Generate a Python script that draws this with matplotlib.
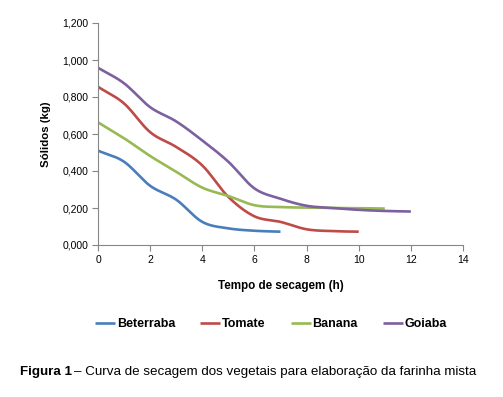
import numpy as np
import matplotlib
matplotlib.use("Agg")
import matplotlib.pyplot as plt
from matplotlib.ticker import FuncFormatter

plt.rcParams['font.family'] = ['Liberation Sans', 'DejaVu Sans']

series_names = ["Beterraba", "Tomate", "Banana", "Goiaba"]
colors = ["#4A7EBB", "#BE4B48", "#98B954", "#7D60A0"]
x_beterraba = [0, 1, 2, 3, 4, 5, 6, 7]
y_beterraba = [0.51, 0.45, 0.32, 0.245, 0.125, 0.09, 0.077, 0.072]
x_tomate = [0, 1, 2, 3, 4, 5, 6, 7, 8, 9, 10]
y_tomate = [0.855, 0.765, 0.61, 0.53, 0.43, 0.26, 0.155, 0.125, 0.085, 0.075, 0.072]
x_banana = [0, 1, 2, 3, 4, 5, 6, 7, 8, 9, 10, 11]
y_banana = [0.663, 0.577, 0.481, 0.396, 0.31, 0.265, 0.215, 0.205, 0.202, 0.2, 0.199, 0.197]
x_goiaba = [0, 1, 2, 3, 4, 5, 6, 7, 8, 9, 10, 11, 12]
y_goiaba = [0.958, 0.874, 0.745, 0.668, 0.565, 0.45, 0.306, 0.25, 0.212, 0.2, 0.19, 0.184, 0.181]
x_ticks = [0, 2, 4, 6, 8, 10, 12, 14]
y_ticks = [0.0, 0.2, 0.4, 0.6, 0.8, 1.0, 1.2]


def smooth(xs, ys, n=20):
    # Catmull-Rom style smoothing (like spreadsheet "smoothed line")
    xs = np.asarray(xs, float); ys = np.asarray(ys, float)
    px = np.concatenate([[2 * xs[0] - xs[1]], xs, [2 * xs[-1] - xs[-2]]])
    py = np.concatenate([[2 * ys[0] - ys[1]], ys, [2 * ys[-1] - ys[-2]]])
    ox, oy = [], []
    for i in range(1, len(px) - 2):
        t = np.linspace(0, 1, n, endpoint=False)
        for arr, out in ((px, ox), (py, oy)):
            p0, p1, p2, p3 = arr[i - 1], arr[i], arr[i + 1], arr[i + 2]
            out.extend(0.5 * ((2 * p1) + (-p0 + p2) * t + (2 * p0 - 5 * p1 + 4 * p2 - p3) * t ** 2
                              + (-p0 + 3 * p1 - 3 * p2 + p3) * t ** 3))
    ox.append(xs[-1]); oy.append(ys[-1])
    return np.array(ox), np.array(oy)


fig = plt.figure(figsize=(5.03, 3.97), dpi=100)
ax = fig.add_axes([98 / 503, 1 - 245 / 397, (463 - 98) / 503, (245 - 23) / 397])

data = [(x_beterraba, y_beterraba), (x_tomate, y_tomate), (x_banana, y_banana), (x_goiaba, y_goiaba)]
handles = []
for (xs, ys), name, c in zip(data, series_names, colors):
    sx, sy = smooth(xs, ys)
    h, = ax.plot(sx, sy, color=c, lw=1.9, label=name, solid_capstyle='butt')
    handles.append(h)

ax.set_xlim(0, 14)
ax.set_ylim(0, 1.2)
ax.set_xticks(x_ticks)
ax.set_yticks(y_ticks)
ax.yaxis.set_major_formatter(FuncFormatter(lambda v, p: f"{v:.3f}".replace('.', ',')))
for s in ['top', 'right']:
    ax.spines[s].set_visible(False)
for s in ['left', 'bottom']:
    ax.spines[s].set_color('#868686')
    ax.spines[s].set_linewidth(0.8)
ax.tick_params(direction='out', length=4, width=0.8, color='#868686', labelsize=7.5, pad=3)
ax.set_xlabel("Tempo de secagem (h)", fontsize=8.4, fontweight='bold', labelpad=11)
ax.set_ylabel("Sólidos (kg)", fontsize=8.2, fontweight='bold', labelpad=8)

fig.legend(handles=handles, loc='center', bbox_to_anchor=(271 / 503, 1 - 324 / 397), ncol=4,
           frameon=False, prop={'weight': 'bold', 'size': 9}, handlelength=1.6,
           handletextpad=0.15, columnspacing=2.0)

fig.canvas.draw()
t1 = fig.text(20 / 503, 1 - 372 / 397, "Figura 1", fontsize=9.6, fontweight='bold', va='center', ha='left')
fig.canvas.draw()
bb = t1.get_window_extent()
fig.text((bb.x1 + 2) / fig.bbox.width, 1 - 372 / 397,
         "– Curva de secagem dos vegetais para elaboração da farinha mista",
         fontsize=9.6, va='center', ha='left')

fig.savefig("out.png", dpi=100)
